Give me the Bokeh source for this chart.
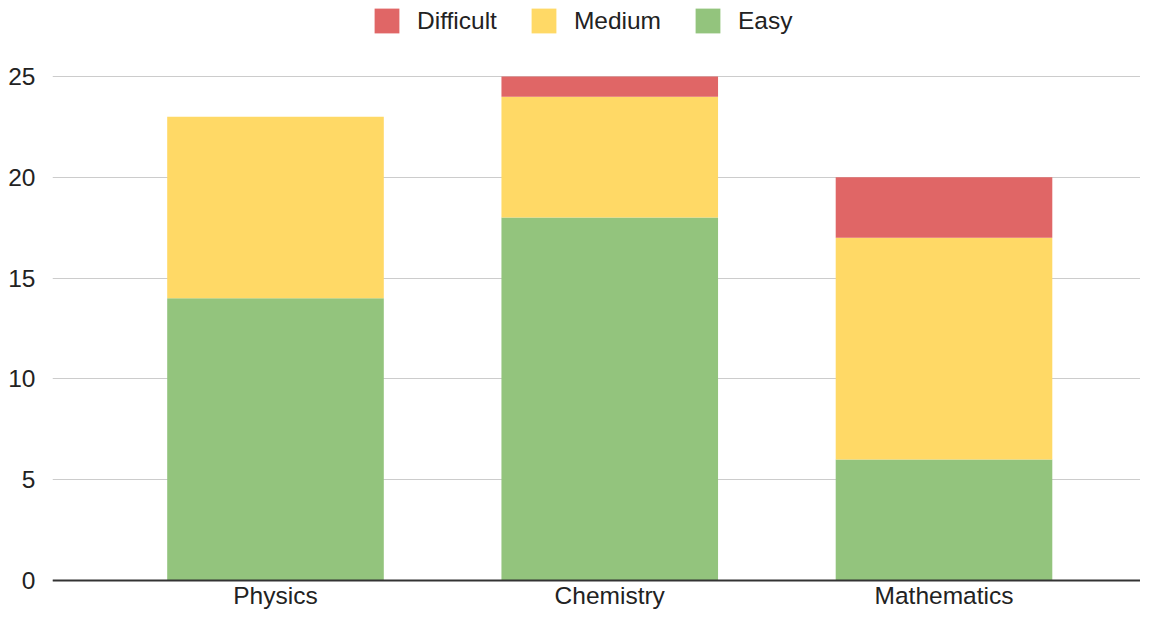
from bokeh.plotting import figure
from bokeh.models import (ColumnDataSource, Range1d, FixedTicker, Legend, LegendItem)
from bokeh.embed import file_html
from bokeh.resources import INLINE

# ---- data ----
subjects = ["Physics", "Chemistry", "Mathematics"]
easy = [14, 18, 6]
medium = [9, 6, 11]
difficult = [0, 1, 3]
levels = ["easy", "medium", "difficult"]
level_names = {"easy": "Easy", "medium": "Medium", "difficult": "Difficult"}
colors = {"easy": "#93c47d", "medium": "#ffd966", "difficult": "#e06666"}
y_ticks = [0, 5, 10, 15, 20, 25]

xpos = list(range(len(subjects)))
source = ColumnDataSource(data=dict(x=xpos, easy=easy, medium=medium, difficult=difficult))

FONT = "Liberation Sans"
FS = "24.5px"

W, H = 1140, 610
LEFT = 52
AXIS_Y = 580.0      # pixel row of value 0
TOP25 = 76.0        # pixel row of value 25
scale = (AXIS_Y - TOP25) / 25.0
y0 = -(H - AXIS_Y) / scale
y1 = AXIS_Y / scale

pxu = 334.25        # pixels per category step
x0 = -(275 - LEFT) / pxu
x1 = (W - 275) / pxu

p = figure(width=W, height=H,
           x_range=Range1d(x0, x1), y_range=Range1d(y0, y1),
           output_backend="svg", toolbar_location=None, tools="")
p.min_border_left = LEFT
p.min_border_right = 0
p.min_border_top = 0
p.min_border_bottom = 0
p.outline_line_color = None
p.background_fill_color = "white"
p.border_fill_color = "white"

rs = p.vbar_stack(levels, x="x", width=0.648, source=source,
                  color=[colors[l] for l in levels], line_color=None)
rmap = dict(zip(levels, rs))

# axes
p.xaxis.ticker = FixedTicker(ticks=xpos)
p.xaxis.major_label_overrides = {i: s for i, s in enumerate(subjects)}
p.xaxis.fixed_location = 0
p.yaxis.ticker = FixedTicker(ticks=y_ticks)
for ax in (p.xaxis[0], p.yaxis[0]):
    ax.major_tick_line_color = None
    ax.minor_tick_line_color = None
    ax.major_tick_out = 0
    ax.major_tick_in = 0
    ax.major_label_text_font = FONT
    ax.major_label_text_font_size = FS
    ax.major_label_text_color = "#222222"
p.xaxis.axis_line_color = "#333333"
p.xaxis.axis_line_width = 2
p.xaxis.major_label_standoff = 1
p.yaxis.axis_line_color = None
p.yaxis.major_label_standoff = 17

p.xgrid.grid_line_color = None
p.ygrid.grid_line_color = "#cccccc"
p.ygrid.grid_line_width = 1

legend = Legend(items=[LegendItem(label=level_names[l], renderers=[rmap[l]])
                       for l in ["difficult", "medium", "easy"]],
                orientation="horizontal", location=(319, 574),
                glyph_width=31, glyph_height=31, label_standoff=15, spacing=31,
                padding=0, margin=0, border_line_color=None,
                background_fill_alpha=0,
                label_text_font=FONT, label_text_font_size=FS,
                label_text_color="#222222")
p.add_layout(legend)

open("out.html", "w").write(file_html(p, INLINE))
